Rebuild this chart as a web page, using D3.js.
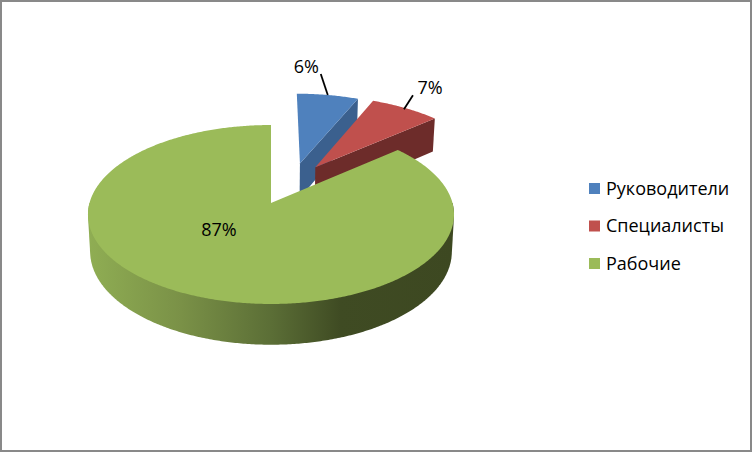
<!DOCTYPE html>
<html><head><meta charset="utf-8">
<script src="https://cdn.jsdelivr.net/npm/d3@7/dist/d3.min.js"></script>
<style>html,body{margin:0;padding:0;background:#fff}svg{display:block}text{font-family:"Open Sans",sans-serif;fill:#000}</style>
</head><body><div id="c"></div>
<script>
const categories = ["Руководители","Специалисты","Рабочие"];
const shares = [6.49, 7.2, 86.5];
const colors = ["#4F81BD","#C0504D","#9BBB59"];
const wallColors = ["#3B608E","#6D2C2A",null];
const explodeAngles = [19.5, 31, 0];
const explodeDist = [0.507, 0.5, 0];
const rimScale = [1.0, 1.02, 1];

const W=752,H=452;
const svg=d3.select("#c").append("svg").attr("width",W).attr("height",H);
svg.append("rect").attr("x",1).attr("y",1).attr("width",W-2).attr("height",H-2)
  .attr("fill","#fff").attr("stroke","#898989").attr("stroke-width",2);

const defs=svg.append("defs");
const grad=defs.append("linearGradient").attr("id","gw").attr("gradientUnits","userSpaceOnUse")
  .attr("x1",90).attr("x2",453).attr("y1",0).attr("y2",0);
[[0,"#8FAD53"],[0.25,"#7A9147"],[0.5,"#5B6E36"],[0.69,"#3F4B23"],[1,"#3D4821"]]
 .forEach(s=>grad.append("stop").attr("offset",s[0]).attr("stop-color",s[1]));

// perspective disc projection
const cx=271,cy=203,A=181.5,B=88,K=-0.1285,Ht=37,M=0.012;
function proj(u,v,h){const w=(1+K*v)*(1+M*h);return [cx+A*u/w,cy+(B*v+Ht*h)/w];}
const line=d3.line();
const arcs=d3.pie().value(d=>d).sort(null)(shares);
const color=d3.scaleOrdinal(categories,colors);

function off(i){const a=explodeAngles[i]*Math.PI/180,d=explodeDist[i];return [d*Math.sin(a),-d*Math.cos(a)];}
function rim(i,a0,a1,h){
  const [ou,ov]=off(i),n=Math.max(2,Math.ceil((a1-a0)/0.01)),p=[],r=rimScale[i];
  d3.range(n+1).forEach(k=>{const t=a0+(a1-a0)*k/n;p.push(proj(ou+r*Math.sin(t),ov-r*Math.cos(t),h));});
  return p;
}
const leaderOffsets=[[-7,-21],[9,-14]];
const labelOffsets=[[-14.5,-1],[17,-1]];
arcs.forEach((d,i)=>{
  const [ou,ov]=off(i),g=svg.append("g");
  const apex0=proj(ou,ov,0),apex1=proj(ou,ov,1);
  if(i<2){
    const e0=rim(i,d.endAngle,d.endAngle,0)[0],e1=rim(i,d.endAngle,d.endAngle,1)[0];
    g.append("path").attr("d",line([apex0,e0,e1,apex1])+"Z").attr("fill",wallColors[i]);
  } else {
    const front=rim(i,Math.PI/2,Math.PI*1.5,0).concat(rim(i,Math.PI/2,Math.PI*1.5,1));
    g.append("path").attr("d",line(d3.polygonHull(front))+"Z").attr("fill","url(#gw)");
  }
  g.append("path").attr("d",line([apex0].concat(rim(i,d.startAngle,d.endAngle,0)))+"Z").attr("fill",color(categories[i]));
});
const fmt=d3.format(".0f");
arcs.forEach((d,i)=>{
  const txt=fmt(Math.round(d.value))+"%";
  if(i<2){
    const mid=(d.startAngle+d.endAngle)/2,[ou,ov]=off(i);
    const p=proj(ou+Math.sin(mid),ov-Math.cos(mid),0),o=leaderOffsets[i],l=labelOffsets[i];
    const q=[p[0]+o[0],p[1]+o[1]];
    svg.append("path").attr("d",line([p,q])).attr("stroke","#000").attr("stroke-width",1.8).attr("fill","none");
    svg.append("text").attr("x",q[0]+l[0]).attr("y",q[1]+l[1]).attr("text-anchor","middle").attr("font-size",18).text(txt);
  } else {
    svg.append("text").attr("x",cx-52).attr("y",cy+33).attr("text-anchor","middle").attr("font-size",18).text(txt);
  }
});
const lg=svg.append("g");
const ly=d3.scalePoint(categories,[188.5,263.5]);
categories.forEach(c=>{
  lg.append("rect").attr("x",589).attr("y",ly(c)-5.5).attr("width",11).attr("height",11).attr("fill",color(c));
  lg.append("text").attr("x",606).attr("y",ly(c)+6).attr("font-size",18).text(c);
});
</script></body></html>
